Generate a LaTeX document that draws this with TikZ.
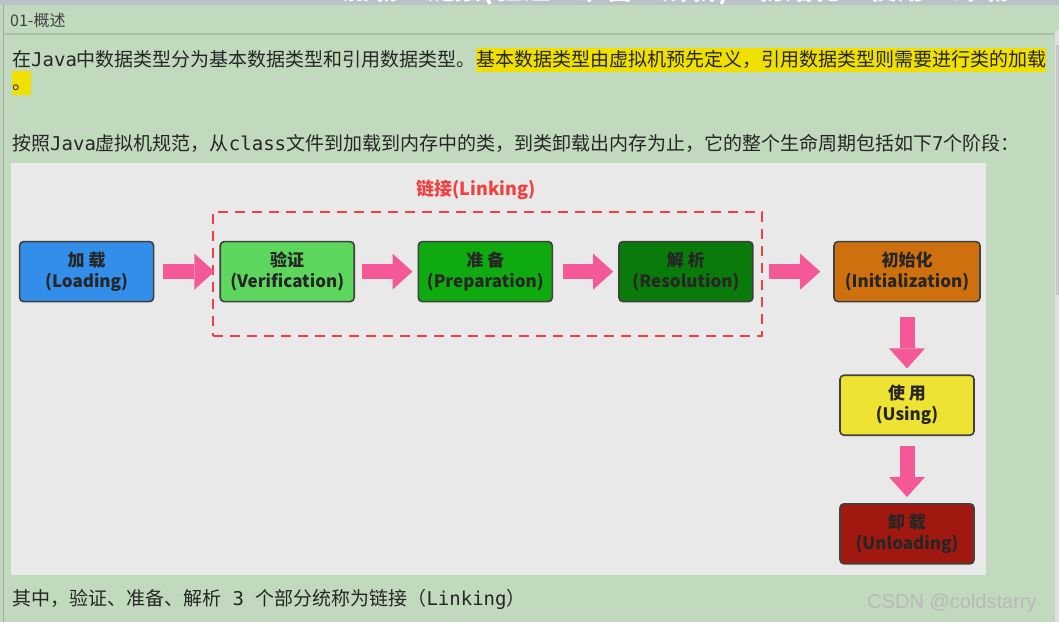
\documentclass[tikz,border=0pt]{standalone}
\usepackage{fontspec}
\usepackage{xcolor}
\usepackage{tikz}
\usetikzlibrary{positioning}
\usetikzlibrary{shapes,arrows.meta,fit}
\setmainfont{Noto Sans CJK SC}
\newfontfamily\cjk{Noto Sans CJK SC}
\newfontfamily\mono{DejaVu Sans Mono}
\newfontfamily\wm{Liberation Sans}
\definecolor{panelgreen}{RGB}{193,217,189}
\definecolor{rulegreen}{RGB}{168,194,164}
\definecolor{areagrey}{RGB}{233,233,233}
\definecolor{topstrip}{RGB}{184,194,200}
\definecolor{hlyellow}{RGB}{240,224,0}
\definecolor{boxline}{RGB}{64,64,64}
\definecolor{loadblue}{RGB}{50,142,232}
\definecolor{verifygreen}{RGB}{92,214,92}
\definecolor{prepgreen}{RGB}{15,170,15}
\definecolor{resgreen}{RGB}{10,122,10}
\definecolor{initorange}{RGB}{206,112,14}
\definecolor{useyellow}{RGB}{238,226,50}
\definecolor{unloadred}{RGB}{160,24,16}
\definecolor{arrowpink}{RGB}{245,88,150}
\definecolor{linkred}{RGB}{240,64,64}
\tikzstyle{stage} = [rectangle, draw=boxline, line width=1.6pt, rounded corners=4pt,
minimum width=134pt, minimum height=60pt, inner sep=0pt, align=center,
font=\cjk\bfseries\fontsize{17}{21}\selectfont, text=black!85]
\tikzstyle{line} = [draw=arrowpink, line width=15pt, -{Triangle[length=20pt,width=36pt,line width=0pt]}]
\tikzstyle{linkframe} = [draw=linkred, line width=2.5pt, dash pattern=on 10pt off 7pt, inner sep=0pt]
\tikzstyle{para} = [anchor=base west, inner sep=0pt, font=\cjk\fontsize{19}{23}\selectfont, text=black!85]
\tikzstyle{hl} = [para, fill=hlyellow, text height=18.5pt, text depth=5.5pt]
\begin{document}
\begin{tikzpicture}[x=1pt, y=-1pt]
    \useasboundingbox (0,0) rectangle (1059,622);
    % page
    \fill[panelgreen] (0,0) rectangle (1059,622);
    \fill[topstrip] (0,0) rectangle (1059,5);
    \begin{scope}
      \clip (0,0) rectangle (1059,5);
      \node[font=\cjk\bfseries\fontsize{28}{30}\selectfont, text=white] (title) at (676,-10) {加载\quad 链接(验证\quad 准备\quad 解析)\quad 初始化\quad 使用\quad 卸载};
    \end{scope}
    \draw[rulegreen, line width=2pt] (3,34) -- (1054,34);
    \draw[gray!70, line width=1pt] (3,5) -- (3,622);
    \fill[gray!25] (1055,30) rectangle (1059,622);
    \fill[gray!45] (1056,45) rectangle (1059,295);
    \fill[areagrey] (11,163) rectangle (986,575);
    % texts
    \node[para, font=\cjk\fontsize{16}{18}\selectfont, text=black!75] (hdr) at (10,26) {01-概述};
    \node[para] (l1a) at (12,66.5) {在{\mono Java}中数据类型分为基本数据类型和引用数据类型。};
    \node[hl] (l1b) at (l1a.base east) {基本数据类型由虚拟机预先定义，引用数据类型则需要进行类的加载};
    \node[hl] (l1c) at (12,89.5) {。};
    \node[para] (l2) at (12,150) {按照{\mono Java}虚拟机规范，从{\mono class}文件到加载到内存中的类，到类卸载出内存为止，它的整个生命周期包括如下{\mono 7}个阶段：};
    \node[para] (l3) at (12,605) {其中，验证、准备、解析{\mono\ 3\ }个部分统称为链接（{\mono Linking}）};
    \node[font=\wm\fontsize{20}{22}\selectfont, text=gray!55] (mark) at (952,603) {CSDN @coldstarry};
    % Place nodes
    \node[stage, fill=loadblue, anchor=north west] (load) at (18.8,240.8) {加 载\\(Loading)};
    \node[stage, fill=verifygreen, right=65pt of load] (verify) {验证\\(Verification)};
    \node[stage, fill=prepgreen, right=62.5pt of verify] (prep) {准 备\\(Preparation)};
    \node[stage, fill=resgreen, right=65pt of prep] (res) {解 析\\(Resolution)};
    \node[stage, fill=initorange, minimum width=146pt, right=79.5pt of res] (init) {初始化\\(Initialization)};
    \node[stage, fill=useyellow, below=72pt of init] (use) {使 用\\(Using)};
    \node[stage, fill=unloadred, below=67pt of use] (unload) {卸 载\\(Unloading)};
    \node[linkframe, fit={(213,212) (762,336)}] (linking) {};
    \node[font=\cjk\bfseries\fontsize{18}{20}\selectfont, text=linkred] (linklbl) at (476,190) {链接(Linking)};
    % edges
    \path [line, shorten <=9pt, shorten >=5pt] (load) -- (verify);
    \path [line, shorten <=7pt, shorten >=5pt] (verify) -- (prep);
    \path [line, shorten <=10pt, shorten >=5pt] (prep) -- (res);
    \path [line, shorten <=15pt, shorten >=13pt] (res) -- (init);
    \path [line, shorten <=15pt, shorten >=6pt] (init) -- (use);
    \path [line, shorten <=10pt, shorten >=6pt] (use) -- (unload);
\end{tikzpicture}
\end{document}
